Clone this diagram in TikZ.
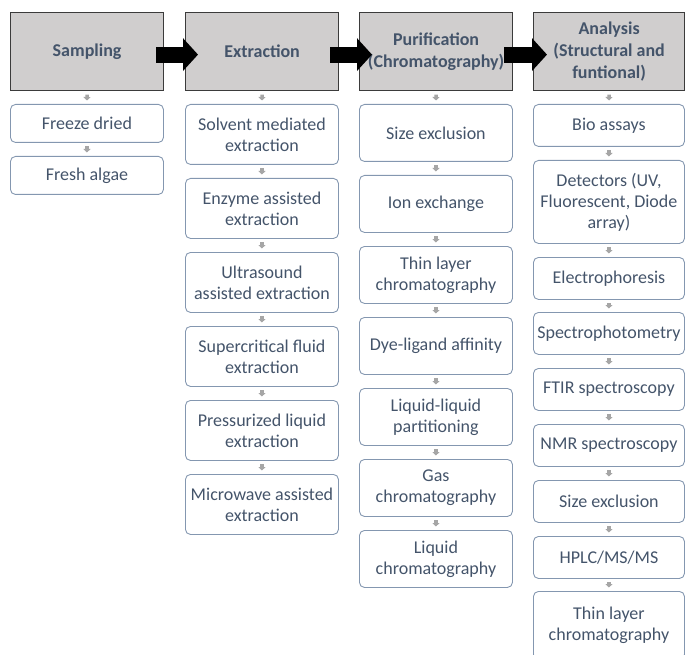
\documentclass[tikz,border=0pt]{standalone}
\usepackage{fontspec}
\setmainfont{Carlito}
\usetikzlibrary{arrows.meta}
\definecolor{txt}{HTML}{44546A}
\definecolor{hdrfill}{HTML}{D0CECE}
\definecolor{hdrline}{HTML}{3B3B3B}
\definecolor{boxline}{HTML}{8497B0}
\definecolor{conncol}{HTML}{A6A6A6}
\begin{document}
\begin{tikzpicture}[x=1pt,y=-1pt,
 hdr/.style={draw=hdrline, fill=hdrfill, line width=1.2pt, minimum width=153pt, minimum height=78pt, anchor=north west, align=center, font=\fontsize{18}{22}\selectfont\bfseries, text=txt, inner sep=1pt},
 sub/.style={draw=boxline, rounded corners=5pt, line width=0.9pt, minimum width=153pt, anchor=north west, align=center, font=\fontsize{18}{21}\selectfont, text=txt, inner sep=1pt},
 smallarr/.style={draw=conncol, line width=3.5pt, -{Triangle[length=3.5pt,width=7pt]}, shorten <=3.5pt, shorten >=3.5pt},
 bigarr/.style={draw=black, line width=16pt, -{Triangle[length=15pt,width=32pt]}}]
\useasboundingbox (0,0) rectangle (685,655);
% headers
\node[hdr] (h1) at (10,12) {Sampling};
\node[hdr] (h2) at (185,12) {Extraction};
\node[hdr] (h3) at (359,12) {Purification\\(Chromatography)};
\node[hdr, minimum width=151pt] (h4) at (533,12) {Analysis\\(Structural and\\funtional)};
% column 1
\node[sub, minimum height=38pt] (a1) at (10,104) {Freeze dried};
\node[sub, minimum height=38pt] (a2) at (10,156) {Fresh algae};
% column 2
\node[sub, minimum height=60pt] (b1) at (185,104) {Solvent mediated\\extraction};
\node[sub, minimum height=60pt] (b2) at (185,178) {Enzyme assisted\\extraction};
\node[sub, minimum height=60pt] (b3) at (185,252) {Ultrasound\\assisted extraction};
\node[sub, minimum height=60pt] (b4) at (185,326) {Supercritical fluid\\extraction};
\node[sub, minimum height=60pt] (b5) at (185,400) {Pressurized liquid\\extraction};
\node[sub, minimum height=60pt] (b6) at (185,474) {Microwave assisted\\extraction};
% column 3
\node[sub, minimum height=57pt] (c1) at (359,104) {Size exclusion};
\node[sub, minimum height=57pt] (c2) at (359,175) {Ion exchange};
\node[sub, minimum height=57pt] (c3) at (359,246) {Thin layer\\chromatography};
\node[sub, minimum height=57pt] (c4) at (359,317) {Dye-ligand affinity};
\node[sub, minimum height=57pt] (c5) at (359,388) {Liquid-liquid\\partitioning};
\node[sub, minimum height=57pt] (c6) at (359,459) {Gas\\chromatography};
\node[sub, minimum height=57pt] (c7) at (359,530) {Liquid\\chromatography};
% column 4
\node[sub, minimum width=151pt, minimum height=42pt] (d1) at (533,104) {Bio assays};
\node[sub, minimum width=151pt, minimum height=83pt] (d2) at (533,160) {Detectors (UV,\\Fluorescent, Diode\\array)};
\node[sub, minimum width=151pt, minimum height=42pt] (d3) at (533,257) {Electrophoresis};
\node[sub, minimum width=151pt, minimum height=42pt] (d4) at (533,312) {Spectrophotometry};
\node[sub, minimum width=151pt, minimum height=42pt] (d5) at (533,368) {FTIR spectroscopy};
\node[sub, minimum width=151pt, minimum height=42pt] (d6) at (533,424) {NMR spectroscopy};
\node[sub, minimum width=151pt, minimum height=42pt] (d7) at (533,480) {Size exclusion};
\node[sub, minimum width=151pt, minimum height=42pt] (d8) at (533,536) {HPLC/MS/MS};
\node[sub, minimum width=151pt, minimum height=68pt] (d9) at (533,591) {Thin layer\\chromatography};
% small connectors
\draw[smallarr] (h1.south) -- (a1.north);
\draw[smallarr] (a1.south) -- (a2.north);
\draw[smallarr] (h2.south) -- (b1.north);
\foreach \i/\j in {1/2,2/3,3/4,4/5,5/6} \draw[smallarr] (b\i.south) -- (b\j.north);
\draw[smallarr] (h3.south) -- (c1.north);
\foreach \i/\j in {1/2,2/3,3/4,4/5,5/6,6/7} \draw[smallarr] (c\i.south) -- (c\j.north);
\draw[smallarr] (h4.south) -- (d1.north);
\foreach \i/\j in {1/2,2/3,3/4,4/5,5/6,6/7,7/8,8/9} \draw[smallarr] (d\i.south) -- (d\j.north);
% big arrows
\draw[bigarr] ([xshift=-8pt,yshift=-3pt]h1.east) -- ([xshift=13pt,yshift=-3pt]h2.west);
\draw[bigarr] ([xshift=-9pt,yshift=-3pt]h2.east) -- ([xshift=13pt,yshift=-3pt]h3.west);
\draw[bigarr] ([xshift=-9pt,yshift=-3pt]h3.east) -- ([xshift=14pt,yshift=-3pt]h4.west);
\end{tikzpicture}
\end{document}
